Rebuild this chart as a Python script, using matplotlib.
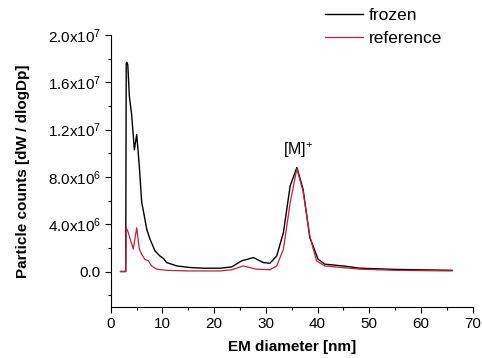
import math
import matplotlib
matplotlib.use("Agg")
import matplotlib.pyplot as plt
from matplotlib.ticker import FixedLocator, MultipleLocator, FuncFormatter

plt.rcParams['font.family'] = ['Liberation Sans', 'DejaVu Sans']
plt.rcParams['mathtext.fontset'] = 'custom'
plt.rcParams['mathtext.rm'] = 'Liberation Sans'

# frozen series (EM diameter nm, dW/dlogDp)
frozen_x = [1.9, 2.9, 3.0, 3.1, 3.3, 3.6, 4.06, 4.57, 5.03, 5.53, 5.99, 6.5, 6.96, 7.6,
            8.57, 9.5, 10.2, 10.8, 12.8, 15.3, 18.0, 21.2, 23.4, 25.3, 27.6, 29.5, 30.8,
            32.1, 33.4, 34.7, 36.0, 37.2, 38.5, 40.1, 41.4, 45.0, 48.2, 55.0, 66.0]
frozen_y = [0.0, 0.0, 17.6e6, 17.7e6, 17.5e6, 14.85e6, 13.2e6, 10.3e6, 11.6e6, 8.9e6, 5.86e6,
            4.7e6, 3.58e6, 2.73e6, 1.74e6, 1.32e6, 1.1e6, 0.76e6, 0.47e6, 0.34e6, 0.28e6,
            0.28e6, 0.39e6, 0.9e6, 1.18e6, 0.76e6, 0.7e6, 1.32e6, 3.3e6, 7.24e6, 8.8e6,
            6.96e6, 2.88e6, 1.04e6, 0.62e6, 0.47e6, 0.28e6, 0.18e6, 0.1e6]

# reference series
ref_x = [1.9, 2.9, 3.0, 3.4, 3.87, 4.37, 5.03, 5.53, 6.0, 6.6, 7.3, 7.9, 8.9, 10.8, 15.0,
         21.2, 23.4, 25.6, 28.2, 30.8, 32.1, 33.4, 34.7, 36.0, 37.2, 38.5, 39.8, 41.4,
         48.2, 55.0, 66.0]
ref_y = [0.0, 0.0, 3.7e6, 3.3e6, 2.6e6, 1.9e6, 3.7e6, 1.9e6, 1.46e6, 1.04e6, 0.9e6, 0.47e6,
         0.2e6, 0.1e6, 0.05e6, 0.05e6, 0.15e6, 0.47e6, 0.2e6, 0.15e6, 0.47e6, 1.9e6, 5.8e6,
         8.7e6, 6.8e6, 3.0e6, 0.9e6, 0.47e6, 0.2e6, 0.1e6, 0.05e6]

series_labels = ['frozen', 'reference']
y_ticks = [0.0, 4.0e6, 8.0e6, 1.2e7, 1.6e7, 2.0e7]
x_ticks = [0, 10, 20, 30, 40, 50, 60, 70]

fig = plt.figure(figsize=(4.82, 3.58), dpi=100)
ax = fig.add_axes([0.2297, 0.1425, 0.751, 0.7595])

ax.plot(frozen_x, frozen_y, color='black', lw=1.0, label=series_labels[0])
ax.plot(ref_x, ref_y, color='#c41e3a', lw=0.9, label=series_labels[1])

ax.set_xlim(0, 70)
ax.set_ylim(-3e6, 2.0e7)
ax.xaxis.set_major_locator(FixedLocator(x_ticks))
ax.xaxis.set_minor_locator(MultipleLocator(5))
ax.yaxis.set_major_locator(FixedLocator(y_ticks))
ax.yaxis.set_minor_locator(MultipleLocator(2e6))


def yfmt(v, pos):
    if abs(v) < 1:
        return '0.0'
    e = int(math.floor(math.log10(abs(v))))
    m = v / 10 ** e
    return r'$\mathregular{%.1fx10^{%d}}$' % (m, e)


ax.yaxis.set_major_formatter(FuncFormatter(yfmt))

for s in ['top', 'right']:
    ax.spines[s].set_visible(False)
ax.tick_params(which='major', direction='out', length=4, width=0.8, labelsize=11, pad=3)
ax.tick_params(which='minor', direction='out', length=2.5, width=0.8)

ax.set_xlabel('EM diameter [nm]', fontsize=11, fontweight='bold', labelpad=7)
ax.set_ylabel('Particle counts [dW / dlogDp]', fontsize=11, fontweight='bold', labelpad=13)

ax.text(36.2, 10.3e6, r'$\mathregular{[M]^{+}}$', fontsize=11.5, ha='center', va='center')

leg = ax.legend(loc='upper left', bbox_to_anchor=(325 / 482, 1 - 8 / 358),
                bbox_transform=fig.transFigure, frameon=False, fontsize=12.5,
                handlelength=2.2, handletextpad=0.3, labelspacing=0.45,
                borderaxespad=0, borderpad=0)

fig.savefig('out.png', dpi=100)
